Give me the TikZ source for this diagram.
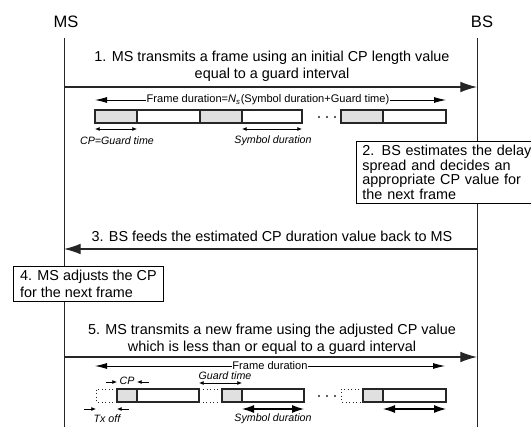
\documentclass[tikz,border=0pt]{standalone}
\usepackage{fontspec}
\setmainfont{Liberation Sans}
\usepackage{xcolor}
\usetikzlibrary{
    positioning,
    arrows.meta,
    calc
}
\definecolor{cpgray}{gray}{0.88}
\definecolor{linegray}{gray}{0.15}
\tikzset{
    lifeline/.style={
        draw=linegray, line width=0.7pt
    },
    msg/.style={
        -{Latex[length=12.5pt,width=8pt]}, line width=0.9pt, draw=linegray
    },
    msgtext/.style={
        align=center, inner sep=0pt,
        font=\fontsize{10.8}{12.8}\selectfont
    },
    entity/.style={
        font=\fontsize{12.4}{14}\selectfont
    },
    note/.style={
        draw=black, line width=0.7pt, fill=white, align=left,
        inner xsep=4.5pt, inner ysep=2.8pt
    },
    cell/.style={
        draw=linegray, line width=0.9pt
    },
    cpcell/.style={
        cell, fill=cpgray
    },
    offcell/.style={
        draw=linegray, line width=0.7pt, dotted
    },
    span/.style={
        {Latex[length=9pt,width=4.5pt]}-{Latex[length=9pt,width=4.5pt]},
        line width=0.6pt
    },
    bigspan/.style={
        {Latex[length=9pt,width=6pt]}-{Latex[length=9pt,width=6pt]},
        line width=0.8pt
    },
    tick/.style={
        {Latex[length=3.5pt,width=3pt]}-{Latex[length=3.5pt,width=3pt]},
        line width=0.6pt
    },
    pointer/.style={
        -{Latex[length=3.5pt,width=3pt]}, line width=0.6pt
    },
    dimtext/.style={
        inner sep=0.5pt, font=\fontsize{8.3}{9.5}\selectfont
    },
    dimlabel/.style={
        inner sep=0pt, font=\fontsize{8}{9.5}\selectfont\itshape
    }
}

\begin{document}
\begin{tikzpicture}[x=0.75pt, y=-0.75pt]
    \useasboundingbox (0,0) rectangle (531,427);

    % entities and lifelines
    \node[entity] (ms) at (66,22) {MS};
    \node[entity] (bs) at (482,22) {BS};
    \coordinate (ms top) at (64,38);
    \coordinate (ms end) at (64,427);
    \coordinate (bs top) at (477,38);
    \coordinate (bs end) at (477,427);
    \draw[lifeline] (ms top) -- (ms end);
    \draw[lifeline] (bs top) -- (bs end);

    % step 1
    \node[msgtext] (t1) at (272,66.5)
        {1. MS transmits a frame using an initial CP length value\\equal to a guard interval};
    \coordinate (m1 ms) at (64,87);
    \coordinate (m1 bs) at (477,87);
    \draw[msg] (m1 ms) -- (m1 bs);

    \draw[span] (95,100) -- (446,100);
    \node[dimtext, fill=white] (fd1) at (268,100)
        {Frame duration=\textit{N}\textsubscript{\textit{s}}(Symbol duration+Guard time)};
    \foreach \a/\b/\c in {95/137/200, 200/242/302, 341/383/446} {
        \draw[cpcell] (\a,110) rectangle (\b,123);
        \draw[cell] (\b,110) rectangle (\c,123);
    }
    \foreach \d in {319,327,335}
        \fill[linegray] (\d,117) circle (0.9pt);
    \draw[tick] (95,129) -- (137,129);
    \node[dimlabel] (cp1) at (117,141) {CP=Guard time};
    \draw[tick] (242,129) -- (302,129);
    \node[dimlabel] (sd1) at (273,141) {Symbol duration};

    % step 2
    \node[note, anchor=north west, text width=140pt,
        font=\fontsize{10.8}{11}\selectfont] (est) at (356,141)
        {2. BS estimates the delay\\spread and decides an\\appropriate CP value for\\the next frame};

    % step 3
    \node[msgtext] (t3) at (272,236)
        {3. BS feeds the estimated CP duration value back to MS};
    \coordinate (m3 bs) at (477,249);
    \coordinate (m3 ms) at (64,249);
    \draw[msg] (m3 bs) -- (m3 ms);

    % step 4
    \node[note, anchor=north west, inner xsep=5pt,
        font=\fontsize{10.8}{12.8}\selectfont] (adj) at (13,266)
        {4. MS adjusts the CP\\for the next frame};

    % step 5
    \node[msgtext] (t5) at (272,339.5)
        {5. MS transmits a new frame using the adjusted CP value\\which is less than or equal to a guard interval};
    \coordinate (m5 ms) at (64,357);
    \coordinate (m5 bs) at (477,357);
    \draw[msg] (m5 ms) -- (m5 bs);

    \draw[span] (95,366) -- (445,366);
    \node[dimtext, fill=white] (fd2) at (270,366) {Frame duration};
    \foreach \o/\a/\b/\c in {96/117/137/199, 199/222/242/304, 341/363/383/446} {
        \draw[offcell] (\a,389) -- (\o,389) -- (\o,402) -- (\a,402);
        \draw[cpcell] (\a,389) rectangle (\b,402);
        \draw[cell] (\b,389) rectangle (\c,402);
    }
    \foreach \d in {319,327,335}
        \fill[linegray] (\d,396) circle (0.9pt);

    \draw[pointer] (106,382) -- (117,382);
    \node[dimlabel] (cp2) at (127,381) {CP};
    \draw[pointer] (149,382) -- (137,382);
    \node[dimlabel] (gt2) at (225,376) {Guard time};
    \draw[tick] (199,383) -- (242,383);

    \draw[pointer] (84,409) -- (96,409);
    \draw[pointer] (129,409) -- (117,409);
    \node[dimlabel] (off2) at (107,419) {Tx off};
    \draw[bigspan] (242,409) -- (304,409);
    \node[dimlabel] (sd2) at (273,419) {Symbol duration};
    \draw[bigspan] (383,409) -- (446,409);
\end{tikzpicture}
\end{document}
